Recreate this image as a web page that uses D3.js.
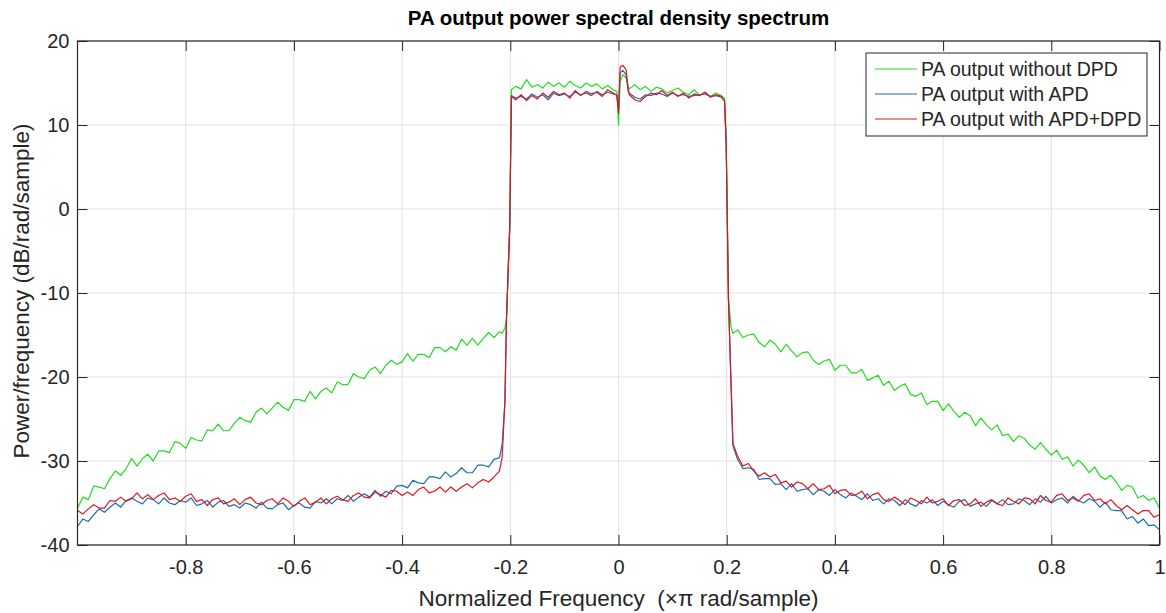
<!DOCTYPE html>
<html><head><meta charset="utf-8">
<script src="https://cdn.jsdelivr.net/npm/d3@7"></script>
<style>body{margin:0;background:#fff}svg text{font-family:"Liberation Sans",Arial,sans-serif;fill:#262626}</style>
</head><body><svg id="c" width="1166" height="613"></svg>
<script>
const freq = [-1.00,-0.99,-0.98,-0.97,-0.96,-0.95,-0.94,-0.93,-0.92,-0.91,-0.90,-0.89,-0.88,-0.87,-0.86,-0.85,-0.84,-0.83,-0.82,-0.81,-0.80,-0.79,-0.78,-0.77,-0.76,-0.75,-0.74,-0.73,-0.72,-0.71,-0.70,-0.69,-0.68,-0.67,-0.66,-0.65,-0.64,-0.63,-0.62,-0.61,-0.60,-0.59,-0.58,-0.57,-0.56,-0.55,-0.54,-0.53,-0.52,-0.51,-0.50,-0.49,-0.48,-0.47,-0.46,-0.45,-0.44,-0.43,-0.42,-0.41,-0.40,-0.39,-0.38,-0.37,-0.36,-0.35,-0.34,-0.33,-0.32,-0.31,-0.30,-0.29,-0.28,-0.27,-0.26,-0.25,-0.24,-0.23,-0.22,
-0.215,-0.21,-0.207,-0.204,-0.201,
-0.198,-0.19,-0.18,-0.17,-0.16,-0.15,-0.14,-0.13,-0.12,-0.11,-0.10,-0.09,-0.08,-0.07,-0.06,-0.05,-0.04,-0.03,-0.02,-0.01,-0.003,0.0,0.003,0.008,0.014,0.018,0.02,0.03,0.04,0.05,0.06,0.07,0.08,0.09,0.10,0.11,0.12,0.13,0.14,0.15,0.16,0.17,0.18,0.19,0.196,0.199,0.2033,0.208,0.2115,
0.22,0.23,0.24,0.25,0.26,0.27,0.28,0.29,0.30,0.31,0.32,0.33,0.34,0.35,0.36,0.37,0.38,0.39,0.40,0.41,0.42,0.43,0.44,0.45,0.46,0.47,0.48,0.49,0.50,0.51,0.52,0.53,0.54,0.55,0.56,0.57,0.58,0.59,0.60,0.61,0.62,0.63,0.64,0.65,0.66,0.67,0.68,0.69,0.70,0.71,0.72,0.73,0.74,0.75,0.76,0.77,0.78,0.79,0.80,0.81,0.82,0.83,0.84,0.85,0.86,0.87,0.88,0.89,0.90,0.91,0.92,0.93,0.94,0.95,0.96,0.97,0.98,0.99,1.00];

const withoutDPD = [-35.6,-34.3,-34.6,-33.0,-33.1,-33.3,-32.1,-31.2,-31.7,-30.9,-29.7,-30.6,-29.7,-29.2,-30.0,-28.8,-28.8,-29.0,-27.7,-27.9,-28.5,-27.2,-27.5,-27.6,-26.3,-26.4,-25.6,-26.4,-26.4,-25.5,-24.8,-25.2,-25.4,-24.2,-23.7,-24.4,-23.7,-23.0,-23.6,-24.0,-22.7,-22.7,-22.9,-21.7,-22.6,-21.7,-21.3,-21.9,-20.6,-20.9,-20.9,-19.6,-20.0,-20.2,-19.2,-18.8,-19.6,-18.6,-18.0,-18.5,-18.2,-17.2,-18.1,-17.3,-17.3,-17.7,-16.5,-16.5,-17.0,-16.4,-16.8,-15.5,-16.2,-15.4,-16.2,-15.4,-14.7,-15.3,-14.6,
-14.8,-14.2,-13.0,-7.5,-2.0,
14.2,14.6,14.3,15.4,14.5,14.8,14.4,15.1,14.6,15.0,14.5,15.2,14.7,14.4,15.0,14.6,14.9,14.3,14.7,14.2,14.0,10.0,15.2,16.0,15.6,14.6,14.3,14.8,14.2,14.6,14.0,14.5,14.3,13.8,14.1,14.4,13.9,13.6,14.2,13.5,13.9,13.4,13.8,13.5,13.2,8.0,-10.8,-14.0,-14.8,
-14.4,-15.3,-15.0,-14.9,-15.9,-16.4,-15.6,-16.1,-17.0,-16.1,-16.9,-17.6,-17.1,-17.0,-18.0,-18.5,-18.1,-17.9,-19.2,-18.6,-18.6,-19.5,-19.5,-19.1,-20.4,-20.1,-19.8,-21.0,-20.5,-21.6,-21.1,-20.8,-22.1,-22.3,-21.9,-23.3,-22.9,-22.9,-24.0,-23.2,-24.1,-24.8,-24.2,-24.6,-25.8,-24.9,-25.7,-26.3,-25.7,-27.0,-26.8,-27.7,-27.0,-27.3,-28.1,-28.6,-27.8,-28.6,-29.3,-28.7,-29.8,-29.5,-30.6,-29.9,-30.5,-31.4,-30.7,-31.8,-32.2,-31.7,-32.5,-33.5,-32.9,-33.1,-34.4,-34.1,-34.7,-34.4,-35.6];

const withAPD = [-37.8,-36.9,-37.2,-36.4,-35.7,-36.1,-35.5,-35.0,-35.5,-34.7,-34.4,-34.8,-35.1,-34.4,-34.6,-35.1,-34.4,-35.0,-35.2,-34.7,-34.9,-34.4,-35.3,-35.1,-34.7,-35.5,-34.9,-34.7,-35.4,-35.2,-35.6,-35.0,-35.2,-35.6,-34.9,-35.6,-35.7,-35.2,-35.0,-35.8,-35.3,-35.0,-35.5,-35.6,-34.8,-35.0,-34.5,-35.1,-34.5,-34.7,-34.1,-34.8,-34.3,-33.9,-34.3,-33.5,-34.2,-33.6,-33.9,-33.0,-32.9,-33.2,-32.3,-32.6,-32.7,-31.9,-31.9,-32.1,-31.3,-31.9,-31.5,-30.8,-31.4,-31.4,-30.5,-30.5,-30.7,-29.8,-29.6,
-28.0,-23.0,-13.0,-7.5,-2.0,
13.5,13.2,13.4,13.1,13.7,13.3,13.6,13.0,13.8,13.5,13.7,13.4,13.9,13.6,13.8,13.5,14.0,13.6,13.9,13.7,13.6,11.8,16.2,16.5,16.0,14.0,13.8,13.3,13.1,13.6,13.5,13.8,13.7,13.4,13.8,13.5,13.6,13.4,13.5,13.6,13.7,13.4,13.5,13.3,12.9,8.0,-10.8,-20.7,-28.2,
-29.8,-30.9,-30.8,-31.0,-32.2,-32.1,-32.1,-32.8,-32.7,-33.4,-32.7,-33.6,-33.4,-33.3,-34.0,-33.4,-33.6,-34.1,-33.4,-34.0,-34.4,-33.8,-34.2,-34.6,-33.9,-34.7,-34.5,-35.1,-34.5,-34.7,-35.3,-34.6,-35.1,-35.4,-34.7,-35.0,-34.6,-35.3,-34.8,-35.2,-35.5,-34.8,-34.6,-35.4,-35.1,-34.9,-35.4,-34.7,-35.1,-34.6,-35.2,-35.1,-34.5,-34.7,-35.2,-34.5,-34.9,-34.2,-35.0,-34.6,-34.4,-35.0,-34.2,-34.7,-35.0,-34.5,-34.8,-35.5,-34.9,-35.8,-35.9,-35.9,-36.9,-36.6,-37.4,-36.9,-37.7,-37.6,-38.2];

const withAPDDPD = [-35.9,-36.3,-35.7,-35.2,-35.6,-35.6,-34.7,-34.8,-34.3,-34.8,-34.5,-33.8,-34.5,-34.0,-34.6,-34.1,-33.8,-34.6,-34.4,-34.8,-34.2,-33.9,-34.8,-34.6,-35.3,-34.6,-34.4,-35.1,-34.9,-34.5,-35.2,-34.6,-34.3,-35.0,-35.2,-34.7,-34.5,-35.1,-34.4,-34.8,-35.4,-34.8,-34.4,-35.2,-34.9,-34.4,-35.1,-34.5,-34.2,-34.6,-34.8,-34.1,-33.8,-34.3,-34.4,-33.7,-34.0,-34.3,-33.5,-33.6,-34.1,-33.7,-34.1,-33.4,-33.1,-33.8,-33.6,-33.1,-33.7,-33.1,-33.6,-33.1,-32.7,-33.2,-32.6,-32.2,-32.5,-31.9,-31.2,
-29.5,-23.0,-13.0,-7.5,-2.0,
13.4,13.0,13.6,12.9,13.5,13.1,13.8,13.3,14.0,13.6,13.8,13.2,14.1,13.5,14.0,13.7,13.9,13.4,14.2,13.8,13.5,11.4,16.9,17.1,16.6,14.2,13.6,13.0,12.8,13.4,13.8,13.6,14.1,13.5,13.9,13.4,13.8,13.2,13.7,13.5,13.9,13.3,13.6,13.4,12.8,8.0,-10.8,-20.7,-27.9,
-29.4,-30.6,-30.3,-31.2,-31.8,-31.4,-31.9,-31.6,-32.6,-32.4,-33.1,-32.5,-32.7,-33.3,-32.7,-33.4,-33.3,-32.9,-33.9,-33.5,-33.4,-34.1,-34.0,-33.6,-34.5,-34.0,-33.8,-34.6,-34.8,-34.3,-34.7,-35.2,-34.4,-34.7,-35.1,-34.3,-35.0,-34.8,-34.5,-35.3,-34.7,-34.6,-35.3,-35.1,-34.5,-35.4,-34.9,-34.6,-35.1,-35.3,-34.4,-34.8,-35.1,-34.4,-34.5,-35.1,-34.1,-34.7,-34.9,-34.1,-33.9,-34.7,-34.4,-34.8,-34.1,-33.9,-34.7,-34.5,-35.1,-34.6,-35.3,-35.8,-35.3,-35.8,-36.3,-35.9,-35.9,-36.7,-36.4];

const xTicks = [-0.8,-0.6,-0.4,-0.2,0,0.2,0.4,0.6,0.8,1];
const xTickLabels = ["-0.8","-0.6","-0.4","-0.2","0","0.2","0.4","0.6","0.8","1"];
const yTicks = [-40,-30,-20,-10,0,10,20];
const yTickLabels = ["-40","-30","-20","-10","0","10","20"];
const seriesNames = ["PA output without DPD","PA output with APD","PA output with APD+DPD"];
const seriesColors = ["#1fdd1f","#1a6fae","#e0141c"];
const seriesValues = [withoutDPD, withAPD, withAPDDPD];

const svg = d3.select("#c");
const L = 77.5, R = 1159.5, T = 41, B = 545;
const x = d3.scaleLinear().domain([-1, 1]).range([L, R]);
const y = d3.scaleLinear().domain([-40, 20]).range([B, T]);
const FONT = "'Liberation Sans', Arial, sans-serif";

// grid
const grid = svg.append("g");
grid.selectAll("line.gx").data(xTicks).join("line").attr("class","gx")
  .attr("x1", d => x(d)).attr("x2", d => x(d)).attr("y1", T).attr("y2", B)
  .attr("stroke", "#e2e2e2").attr("stroke-width", 1);
grid.selectAll("line.gy").data(yTicks).join("line").attr("class","gy")
  .attr("x1", L).attr("x2", R).attr("y1", d => y(d)).attr("y2", d => y(d))
  .attr("stroke", "#e2e2e2").attr("stroke-width", 1);

// axes (inward ticks)
const axB = d3.axisBottom(x).tickValues(xTicks).tickSize(-10).tickPadding(15).tickFormat((d, i) => xTickLabels[i]);
const axT = d3.axisTop(x).tickValues(xTicks).tickSize(-10).tickFormat("");
const axLft = d3.axisLeft(y).tickValues(yTicks).tickSize(-10).tickPadding(8).tickFormat((d, i) => yTickLabels[i]);
const axRt = d3.axisRight(y).tickValues(yTicks).tickSize(-10).tickFormat("");

function style(g){
  g.select(".domain").remove();
  g.selectAll(".tick line").attr("stroke", "#262626").attr("stroke-width", 1);
  g.selectAll("text").attr("font-size", 20).attr("fill", "#262626").style("font-family", FONT);
}
svg.append("g").attr("transform", `translate(0,${B})`).call(axB).call(style);
svg.append("g").attr("transform", `translate(0,${T})`).call(axT).call(style);
svg.append("g").attr("transform", `translate(${L},0)`).call(axLft).call(style);
svg.append("g").attr("transform", `translate(${R},0)`).call(axRt).call(style);

// lines
svg.append("clipPath").attr("id", "clip").append("rect").attr("x", L).attr("y", T).attr("width", R - L).attr("height", B - T);
const line = d3.line().x(d => x(d[0])).y(d => y(d[1]));
const plot = svg.append("g").attr("clip-path", "url(#clip)");
seriesValues.forEach((vals, i) => {
  plot.append("path").datum(freq.map((f, k) => [f, vals[k]]))
    .attr("d", line).attr("fill", "none").attr("stroke", seriesColors[i]).attr("stroke-width", 1.2)
    .attr("stroke-linejoin", "round");
});

// box
svg.append("rect").attr("x", L).attr("y", T).attr("width", R - L).attr("height", B - T)
  .attr("fill", "none").attr("stroke", "#262626").attr("stroke-width", 1.2);

// title & labels
svg.append("text").attr("x", (L + R) / 2).attr("y", 25).attr("text-anchor", "middle")
  .attr("font-size", 20.5).attr("font-weight", "bold").style("fill", "#000").text("PA output power spectral density spectrum");
svg.append("text").attr("x", (L + R) / 2).attr("y", 606).attr("text-anchor", "middle")
  .attr("font-size", 22.5).style("white-space", "pre").text("Normalized Frequency  (×π rad/sample)");
svg.append("text").attr("transform", `translate(29,${(T + B) / 2 - 2}) rotate(-90)`).attr("text-anchor", "middle")
  .attr("font-size", 22.5).text("Power/frequency (dB/rad/sample)");

// legend
const lg = svg.append("g");
lg.append("rect").attr("x", 866).attr("y", 53).attr("width", 281).attr("height", 83)
  .attr("fill", "#fff").attr("stroke", "#262626").attr("stroke-width", 1);
seriesNames.forEach((n, i) => {
  const yy = 69 + i * 25;
  lg.append("line").attr("x1", 875).attr("x2", 917).attr("y1", yy).attr("y2", yy)
    .attr("stroke", seriesColors[i]).attr("stroke-width", 1);
  lg.append("text").attr("x", 921).attr("y", yy).attr("dy", "0.35em").attr("font-size", 19.5).text(n);
});
</script></body></html>
